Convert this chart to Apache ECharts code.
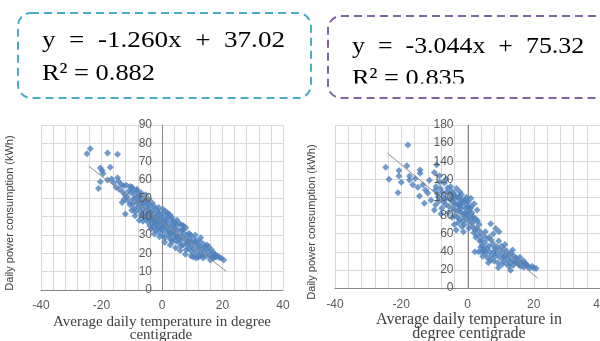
<!DOCTYPE html>
<html><head><meta charset="utf-8">
<script src="https://cdn.jsdelivr.net/npm/echarts@6/dist/echarts.min.js"></script>
<style>html,body{margin:0;padding:0;background:#fff}#c{width:600px;height:341px}</style>
</head><body><div id="c"></div>
<script>
// ---- data ----
var leftPoints = [
[-24.8,74.3],[-23.7,77],[-18,74.7],[-14.7,74],[-20.4,66.5],[-19.8,65.2],[-17.1,67],[-20.4,59],[-21,55.3],[-18,60],[-16.7,60.6],[-14.7,61.2],[-14.3,59.2],[-12.1,41.5],[-19.5,63.5],[-16,58.5],
[-13.5,57.5],[-12.7,56.8],[-11.8,57.2],[-10.5,56.5],[-9.9,56],[-13,53.5],[-12.2,52],[-11.6,51],[-11,54],[-10.2,53],[-13.2,47.7],[-12.5,49.5],[-11.2,48.5],[-10.6,46.5],[-14.2,55],[-15.2,56],
[-9.5,54.5],[-9,52],[-8.6,50],[-8.2,53.8],[-7.8,48],[-7.4,51.5],[-7,46],[-6.6,49],[-6.2,44],[-5.8,47.5],[-5.4,52],[-5.1,45],[-9.8,47],[-9.2,44.5],[-8.8,42.5],[-8,45],[-7.2,43],[-6.8,41],[-6,40],[-5.5,42.5],[-9.6,49.5],[-8.4,47.5],[-7.6,50.5],[-6.4,47],[-5.2,49],[-10,43.5],[-8.9,40.5],[-7.5,38],[-6.3,37.5],[-5.3,39],
[-4.8,47],[-4.5,44],[-4.2,41.5],[-3.9,46],[-3.6,39],[-3.3,43],[-3,36.5],[-2.7,41],[-2.4,38],[-2.1,44.5],[-1.8,35.5],[-1.5,40],[-1.2,37],[-0.9,42],[-0.6,34],[-0.3,39.5],[-4.6,37],[-4,35],[-3.5,33.5],[-2.9,34.5],[-2.2,32.5],[-1.6,33.5],[-1,31.5],[-0.4,36],[-4.9,41],[-3.8,42.5],[-2.6,45.5],[-1.4,42.5],[-0.7,38],[-2,39.5],[-3.1,40],[-4.3,38.5],[-1.9,36.5],[-0.2,33],[-2.8,37.5],
[0.2,41.5],[0.5,38],[0.8,35],[1.1,43],[1.4,32],[1.7,39],[2,36],[2.3,29.5],[2.6,41],[2.9,34],[3.2,31],[3.5,37],[3.8,28],[4.1,33],[4.4,30],[4.7,35.5],[0.4,30],[1,28.5],[1.6,34.5],[2.2,32.5],[2.8,27.5],[3.4,26.5],[4,31.5],[4.6,27],[0.6,36.5],[1.3,37.5],[1.9,42],[3,38.5],[3.7,35],[4.3,37],[0.1,33.5],[2.5,30.5],[4.9,29],
[5.2,33],[5.5,30],[5.8,36],[6.1,27],[6.4,32.5],[6.7,29],[7,24.5],[7.3,31],[7.6,27.5],[7.9,34],[8.2,25],[8.5,29.5],[8.8,22.5],[9.1,27],[9.4,30],[9.7,24],[5.4,26],[6.3,24],[7.1,35],[8,22],[8.9,31],[9.8,21],[5.9,28.5],[6.9,33],[8.4,26.5],[9.3,25.5],
[10.2,28],[10.5,22.5],[10.8,19],[11.1,25.5],[11.4,27],[11.7,21],[12,18],[12.3,24],[12.6,26.5],[12.9,20],[13.2,22.5],[13.5,19],[13.8,25],[14.1,21.5],[14.4,23.5],[14.7,18.5],[10.4,18],[11.3,17.5],[12.5,18.5],[13.6,17.5],[10.9,26],[14.9,24.5],[11.9,23],
[15.2,21],[15.5,23.5],[15.8,19],[16,16.4],[16.3,22],[16.6,18],[17,17.5],[17.5,19.5],[18.2,18.6],[18.8,17.8],[19.5,17.5],[20.4,16.4],[16.9,20.5],[17.8,18],
[-8.3,55],[-6.9,53],[-4.4,49.5],[-3.2,47.5],[-1.1,45],[0.3,44],[1.5,40.5],[3.3,39.5],[5,38],[6.5,35.5],[-2.5,30.5],[-0.8,29],[0.9,26],[2.7,24.5],[4.5,23],[6,21.5],[7.7,19.5],[9.6,18.5],[11,30],[12.8,28.5]
];
var rightPoints = [
[-18,158],[-24.7,133.4],[-23.7,120],[-20.7,129.7],[-20.7,123.8],[-20,116.8],[-21,105.3],[-18.3,134.9],[-17.5,123.8],[-17.5,119.4],[-14.3,130.4],[-14.3,126.8],[-15,111.2],[-14.5,101.6],[-13,93.5],[-12.7,108.3],[-10,127.5],[-9.3,136],[-9.5,112],[-10,86],[-11,97],[-12,105],[-13.5,114],[-11.5,119],[-8.5,124],[-15.8,121],[-16.5,114],
[-9,104],[-8.6,96],[-8.2,110],[-7.8,88],[-7.4,101],[-7,116],[-6.6,92],[-6.2,106],[-5.8,83],[-5.4,98],[-5.1,112],[-9.6,92],[-8.8,100.5],[-8,82],[-7.2,95],[-6.4,120],[-5.6,90],[-9.8,108],[-8.4,117],[-7.6,106],[-6.8,98],[-6,110.5],[-5.3,104],
[-4.8,97],[-4.5,88],[-4.2,105],[-3.9,80],[-3.6,93],[-3.3,110],[-3,85],[-2.7,99],[-2.4,76],[-2.1,91],[-1.8,103],[-1.5,82],[-1.2,95],[-0.9,70],[-0.6,88],[-0.3,100],[-4.6,78],[-4,70],[-3.5,99.5],[-2.9,92],[-2.2,84],[-1.6,97],[-1,79],[-0.4,92],[-4.9,107],[-3.8,86],[-2.6,101],[-1.4,74],[-0.7,83],[-2,95],[-3.1,78],[-4.3,94],[-1.9,88],[-0.2,76],[-2.8,72],[-3.4,64],[-1.2,62],[-4.4,101],[-2.5,90],[-0.8,97],[-3.7,102],[-1.7,68],[-0.5,81],[-2.3,106],
[0.2,95],[0.5,84],[0.8,73],[1.1,90],[1.4,68],[1.7,79],[2,93],[2.3,64],[2.6,76],[2.9,86],[3.2,58],[3.5,70],[3.8,62],[4.1,53],[4.4,47],[4.7,58],[0.4,66],[1,99],[1.6,72],[2.2,40],[2.8,66],[3.4,40],[4,45],[4.6,35],[0.6,78],[1.3,83],[1.9,61],[3,74],[3.7,52],[4.3,40],[0.1,89],[2.5,56],[4.9,43],[0.9,88],[1.5,77],
[5.2,50],[5.5,38],[5.8,55],[6.1,33],[6.4,46],[6.7,40],[7,71],[7.3,36],[7.6,48],[7.9,30],[8.2,44],[8.5,65.8],[8.8,38],[9.1,28],[9.4,52],[9.7,34],[5.4,62],[6.3,28],[7.1,53],[8,40],[8.9,45],[9.8,42],[5.9,44],[6.9,31],[8.4,35],[9.3,22.5],[9.5,62],[6.6,56],[7.8,60],[5.1,41],
[10.2,46],[10.5,38],[10.8,30],[11.1,43],[11.4,35],[11.7,27],[12,40],[12.3,32],[12.6,36],[12.9,28],[13.2,38],[13.5,31],[13.8,25],[14.1,35],[14.4,29],[14.7,33],[13,19.6],[10.4,26],[11.3,48],[12.5,24],[13.6,42],[10.9,34],[14.9,28],
[15.2,30],[15.5,26],[15.8,34],[16,24],[16.3,28],[16.6,25],[17,23],[17.5,27],[18.2,24],[18.8,22],[19.5,24],[20.7,21.4],[20,22],[16.9,30],[17.8,26]
];
var leftTrend = [[-24.2,67.5],[21.2,10.3]];
var rightTrend = [[-24.2,149],[21.2,10.8]];
var xTicks = [-40,-20,0,20,40];
var leftYTicks = [0,10,20,30,40,50,60,70,80,90];
var rightYTicks = [0,20,40,60,80,100,120,140,160,180];
var leftEquation = ['y  =  -1.260x  +  37.02','R\u00b2 = 0.882'];
var rightEquation = ['y  =  -3.044x  +  75.32','R\u00b2 = 0.835'];
var xTitleLeft = ['Average daily temperature in degree','centigrade'];
var xTitleRight = ['Average daily temperature in','degree centigrade'];
var yTitle = 'Daily power consumption (kWh)';

// ---- chart ----
var chart = echarts.init(document.getElementById('c'));
var gridColor = '#d9d9d9', axisColor = '#868686', labelColor = '#595959';
function xMain(gi){
  return {type:'value', gridIndex:gi, min:-40, max:40, interval:20,
    axisLine:{onZero:false, lineStyle:{color:axisColor}},
    axisTick:{show:false}, axisLabel:{show:false},
    minorTick:{show:false, splitNumber:5},
    splitLine:{show:true, lineStyle:{color:gridColor, width:1}},
    minorSplitLine:{show:true, lineStyle:{color:gridColor, width:1}}};
}
function xAux(gi){ return {type:'value', gridIndex:gi, min:0, max:40, show:false}; }
function yMain(gi, max, interval){
  return {type:'value', gridIndex:gi, min:0, max:max, interval:interval,
    axisLine:{show:false}, axisTick:{show:false}, axisLabel:{show:false},
    splitLine:{show:true, lineStyle:{color:gridColor, width:1}}};
}
function yAux(gi, max, interval){
  return {type:'value', gridIndex:gi, min:0, max:max, interval:interval, position:'left',
    axisLine:{show:true, onZero:false, lineStyle:{color:axisColor}},
    axisTick:{show:false}, axisLabel:{show:false}, splitLine:{show:false}};
}
var markerColor = '#4F81BD';
var baseGraphic = [
  {type:'text', z:1, x:10, y:213, rotation:Math.PI/2, style:{text:yTitle, font:'11px "Liberation Sans"', fill:'#404040', align:'center', verticalAlign:'middle'}},
  {type:'text', z:1, x:312, y:222, rotation:Math.PI/2, style:{text:yTitle, font:'11px "Liberation Sans"', fill:'#404040', align:'center', verticalAlign:'middle'}},
  {type:'text', z:1, x:162, y:322, style:{text:xTitleLeft[0], font:'15px "Liberation Serif"', fill:'#404040', align:'center', verticalAlign:'middle'}},
  {type:'text', z:1, x:161, y:335, style:{text:xTitleLeft[1], font:'15px "Liberation Serif"', fill:'#404040', align:'center', verticalAlign:'middle'}},
  {type:'text', z:1, x:469, y:320, style:{text:xTitleRight[0], font:'16px "Liberation Serif"', fill:'#404040', align:'center', verticalAlign:'middle'}},
  {type:'text', z:1, x:469, y:334, style:{text:xTitleRight[1], font:'16px "Liberation Serif"', fill:'#404040', align:'center', verticalAlign:'middle'}},
  {type:'text', x:42, y:41, scaleX:1.13, style:{text:leftEquation[0], font:'24px "Liberation Serif"', fill:'#000', align:'left', verticalAlign:'middle'}},
  {type:'text', x:42, y:74, scaleX:1.1, style:{text:leftEquation[1], font:'24px "Liberation Serif"', fill:'#000', align:'left', verticalAlign:'middle'}},
  {type:'rect', shape:{x:18, y:13, width:293, height:85, r:13}, style:{fill:'none', stroke:'#4BACC6', lineWidth:2, lineDash:[8,5]}},
  {type:'text', x:352, y:47, scaleX:1.08, style:{text:rightEquation[0], font:'24px "Liberation Serif"', fill:'#000', align:'left', verticalAlign:'middle'}},
  {type:'text', x:352, y:79, scaleX:1.1, style:{text:rightEquation[1], font:'24px "Liberation Serif"', fill:'#000', align:'left', verticalAlign:'middle'}},
  {type:'rect', shape:{x:335, y:83.5, width:265, height:12}, style:{fill:'#fff'}},
  {type:'rect', shape:{x:328, y:16, width:300, height:82, r:13}, style:{fill:'none', stroke:'#8064A2', lineWidth:2, lineDash:[8,5]}}
];
var option = {
  animation:false,
  grid:[{left:41, top:125, width:242, height:165, containLabel:false},
        {left:162, top:125, width:121, height:165, containLabel:false},
        {left:335, top:125, width:266, height:163, containLabel:false},
        {left:468, top:125, width:133, height:163, containLabel:false}],
  xAxis:[xMain(0), xAux(1), xMain(2), xAux(3)],
  yAxis:[yMain(0,90,10), yAux(1,90,10), yMain(2,180,20), yAux(3,180,20)],
  series:[
    {type:'scatter', xAxisIndex:0, yAxisIndex:0, data:leftPoints, symbol:'diamond', symbolSize:7, itemStyle:{color:markerColor}},
    {type:'line', xAxisIndex:0, yAxisIndex:0, data:leftTrend, symbol:'none', lineStyle:{color:'#8c8c8c', width:1}, z:5},
    {type:'scatter', xAxisIndex:2, yAxisIndex:2, data:rightPoints, symbol:'diamond', symbolSize:7, itemStyle:{color:markerColor}},
    {type:'line', xAxisIndex:2, yAxisIndex:2, data:rightTrend, symbol:'none', lineStyle:{color:'#8c8c8c', width:1}, z:5}
  ],
  graphic: baseGraphic
};
chart.setOption(option);

// tick labels placed through the chart's own axis scales
var labelStyle = {font:'12px "Liberation Sans"', fill:labelColor};
var tickGraphic = [];
function addXLabels(xi, yi, dy){
  xTicks.forEach(function(v){
    var p = chart.convertToPixel({xAxisIndex:xi, yAxisIndex:yi}, [v, 0]);
    tickGraphic.push({type:'text', z:200, x:p[0], y:p[1]+dy, style:Object.assign({text:String(v), align:'center', verticalAlign:'middle'}, labelStyle)});
  });
}
function addYLabels(xi, yi, ticks, dx){
  ticks.forEach(function(v){
    var p = chart.convertToPixel({xAxisIndex:xi, yAxisIndex:yi}, [0, v]);
    tickGraphic.push({type:'text', z:200, x:p[0]-dx, y:p[1], style:Object.assign({text:String(v), align:'right', verticalAlign:'middle'}, labelStyle)});
  });
}
addXLabels(0, 0, 16);
addYLabels(0, 0, leftYTicks, 10);
addXLabels(2, 2, 17);
addYLabels(2, 2, rightYTicks, 14);
chart.setOption({graphic: baseGraphic.concat(tickGraphic)});
</script></body></html>
